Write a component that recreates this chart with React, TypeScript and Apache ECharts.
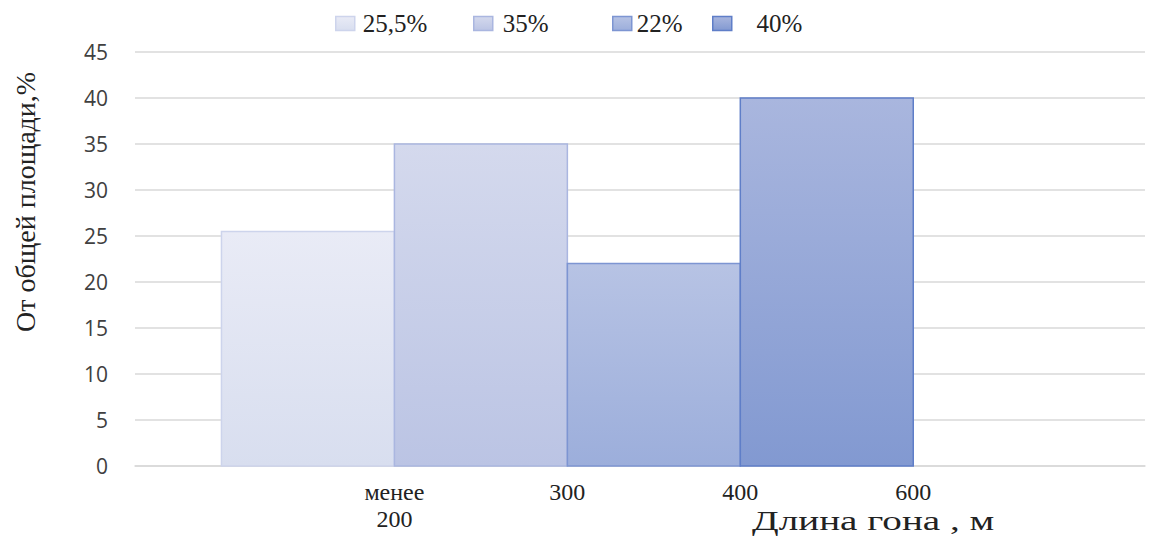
import React, { useEffect, useRef } from "react";
import * as echarts from "echarts";

const seriesNames = ["25,5%", "35%", "22%", "   40%"];
const binStarts = [0, 1, 2, 3];
const values = [25.5, 35, 22, 40];
const edgeValues = [1, 2, 3, 4];
const edgeLabels = ["менее\n200", "300", "400", "600"];
const yTicks = [0, 5, 10, 15, 20, 25, 30, 35, 40, 45];

const topColors = ["#e9ebf6", "#d4d9ed", "#b7c3e4", "#a9b6de"];
const bottomColors = ["#d8deef", "#bbc4e4", "#9caedb", "#8299d1"];
const borderColors = ["#cdd4ec", "#aab6e0", "#7d95d2", "#5f7ec8"];
const legendLefts = [335, 473, 612, 712];
const legendTextPads = [3, 5, 0, 1];

export default function App() {
  const ref = useRef<HTMLDivElement>(null);
  useEffect(() => {
    document.body.style.margin = "0";
    const chart = echarts.init(ref.current!, null, { renderer: "svg" });
    const grad = (i: number) =>
      new echarts.graphic.LinearGradient(0, 0, 0, 1, [
        { offset: 0, color: topColors[i] },
        { offset: 1, color: bottomColors[i] },
      ]);
    const series = seriesNames.map((name, i) => ({
      type: "custom",
      name,
      data: [[binStarts[i], values[i]]],
      itemStyle: { color: grad(i), borderColor: borderColors[i], borderWidth: 1.5 },
      renderItem: (params: any, api: any) => {
        const x0 = api.value(0);
        const v = api.value(1);
        const p0 = api.coord([x0, 0]);
        const p1 = api.coord([x0 + 1, v]);
        return {
          type: "rect",
          shape: { x: p0[0], y: p1[1], width: p1[0] - p0[0], height: p0[1] - p1[1] },
          style: { fill: grad(i), stroke: borderColors[i], lineWidth: 1.5 },
        };
      },
    }));
    const legends = seriesNames.map((name, i) => ({
      data: [{ name, itemStyle: { color: grad(i), borderColor: borderColors[i], borderWidth: 1.5 } }],
      left: legendLefts[i],
      top: 11,
      padding: 0,
      icon: "rect",
      itemWidth: 19,
      itemHeight: 14,
      itemGap: 8,
      textStyle: {
        fontFamily: "Liberation Serif",
        fontSize: 25,
        color: "#222",
        padding: [0, 0, 0, legendTextPads[i]],
      },
      selectedMode: false,
    }));
    chart.setOption({
      animation: false,
      legend: legends,
      grid: { left: 135, right: 16, top: 52, bottom: 70, containLabel: false },
      xAxis: {
        type: "value",
        min: -0.5,
        max: 5.34,
        splitLine: { show: false },
        axisLine: { show: true, lineStyle: { color: "#d9d9d9", width: 1.5 } },
        axisTick: { show: false },
        axisLabel: {
          customValues: edgeValues,
          formatter: (v: number) => edgeLabels[edgeValues.indexOf(v)] ?? "",
          fontFamily: "Liberation Serif",
          fontSize: 24,
          color: "#222",
          lineHeight: 27,
          margin: 12,
          verticalAlign: "top",
        },
      },
      yAxis: {
        type: "value",
        min: 0,
        max: 45,
        interval: 5,
        axisLine: { show: false },
        axisTick: { show: false },
        splitLine: { lineStyle: { color: "#d9d9d9", width: 1.5 } },
        axisLabel: {
          customValues: yTicks,
          fontFamily: "Open Sans",
          fontSize: 21,
          color: "#404040",
          margin: 27,
        },
      },
      graphic: [
        {
          type: "text",
          x: 752,
          y: 507,
          scaleX: 1.45,
          style: { text: "Длина гона , м", font: "27px 'Liberation Serif'", fill: "#222", verticalAlign: "top" },
        },
        {
          type: "text",
          x: 11,
          y: 332,
          rotation: Math.PI / 2,
          style: { text: "От общей площади,%", font: "28px 'Liberation Serif'", fill: "#222", align: "left", verticalAlign: "top" },
        },
      ],
      series,
    });
    return () => chart.dispose();
  }, []);
  return <div ref={ref} style={{ width: 1161, height: 536 }} />;
}
